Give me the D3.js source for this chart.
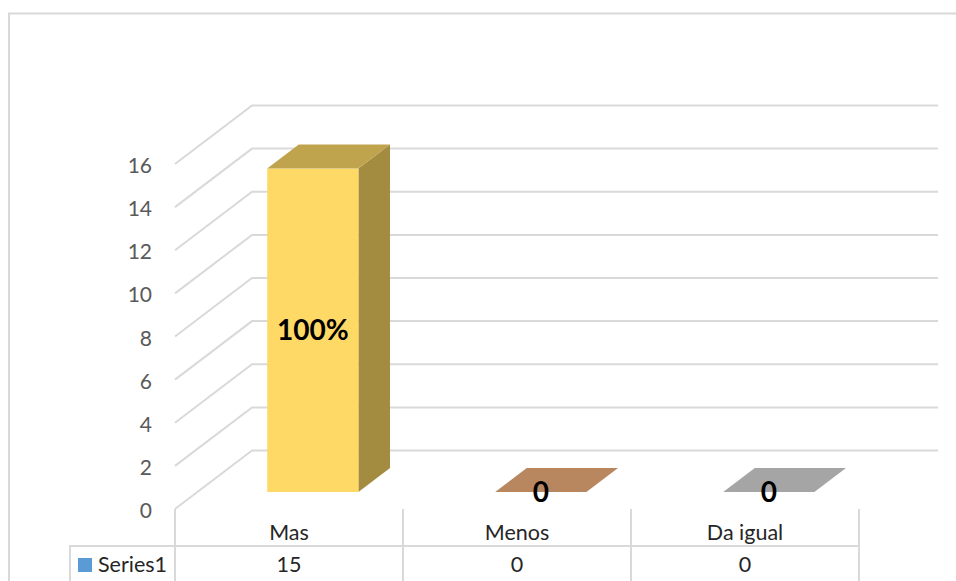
<!DOCTYPE html>
<html>
<head>
<meta charset="utf-8">
<script src="https://cdn.jsdelivr.net/npm/d3@7"></script>
<style>
  html, body { margin: 0; padding: 0; background: #fff; overflow: hidden; }
  text { font-family: Lato, "Open Sans", sans-serif; }
</style>
</head>
<body>
<div id="chart"></div>
<script>
// data
var categories = ['Mas', 'Menos', 'Da igual']
var values = [15, 0, 0]
var barLabels = ['100%', '0', '0']
var tickLabels = [0, 2, 4, 6, 8, 10, 12, 14, 16]
var seriesName = 'Series1'

var COLOR = {
  GRID: '#d9d9d9',
  TICK: '#595959',
  TEXT: '#262626',
  LEGEND: '#5b9bd5'
}
var barColors = [
  { front: '#ffd966', top: '#bfa34d', side: '#a38b3f' },
  { front: '#f4b183', top: '#b8865f', side: '#946b4c' },
  { front: '#dbdbdb', top: '#a5a5a5', side: '#848484' }
]

var width = 956
var height = 581

// the box floor and its depth, front corner to back corner
var depthX = 77
var depthY = 58.5
var barFrontDepth = 0.29
var barBackDepth = 0.7
var barNudge = 1.5

var svg = d3
  .select('#chart')
  .append('svg')
  .attr('width', width)
  .attr('height', height)

var x = d3
  .scaleBand()
  .domain(categories)
  .range([175, 859])
  .paddingInner(0)
  .paddingOuter(0)

var y = d3.scaleLinear().domain([0, 16]).range([509, 164])

var barWidth = x.bandwidth() * 0.4

// project a point of the floor plan to the page
function px(xPos, depth) {
  return xPos + depth * depthX
}
function py(value, depth) {
  return y(value) - depth * depthY
}
function poly(points) {
  return points.map(p => p[0].toFixed(1) + ',' + p[1].toFixed(1)).join(' ')
}

// outer chart frame, cut by the window on the right and at the bottom
svg
  .append('path')
  .attr('d', 'M9,' + height + 'V13.5H' + width)
  .attr('fill', 'none')
  .attr('stroke', COLOR.GRID)
  .attr('stroke-width', 2)

// gridlines along the side wall and the back wall
var grid = svg.append('g').attr('fill', 'none').attr('stroke', COLOR.GRID).attr('stroke-width', 2)
grid
  .selectAll('polyline')
  .data(tickLabels)
  .enter()
  .append('polyline')
  .attr('points', d => poly([
    [x.range()[0], py(d, 0)],
    [px(x.range()[0], 1), py(d, 1)],
    [938, py(d, 1)]
  ]))

// value axis labels
svg
  .append('g')
  .selectAll('text')
  .data(tickLabels)
  .enter()
  .append('text')
  .attr('x', 152)
  .attr('y', d => y(d) + 9)
  .attr('text-anchor', 'end')
  .attr('font-size', 21)
  .attr('fill', COLOR.TICK)
  .text(d => d)

// bars
var bars = svg
  .append('g')
  .selectAll('g')
  .data(categories)
  .enter()
  .append('g')

function barLeft(d) {
  return x(d) + (x.bandwidth() - barWidth) / 2 + barNudge
}

// right side
bars
  .append('polygon')
  .attr('fill', (d, i) => barColors[i].side)
  .attr('points', (d, i) => {
    var r = barLeft(d) + barWidth
    return poly([
      [px(r, barFrontDepth), py(0, barFrontDepth)],
      [px(r, barBackDepth), py(0, barBackDepth)],
      [px(r, barBackDepth), py(values[i], barBackDepth)],
      [px(r, barFrontDepth), py(values[i], barFrontDepth)]
    ])
  })

// front
bars
  .append('rect')
  .attr('fill', (d, i) => barColors[i].front)
  .attr('x', d => px(barLeft(d), barFrontDepth))
  .attr('y', (d, i) => py(values[i], barFrontDepth))
  .attr('width', barWidth)
  .attr('height', (d, i) => y(0) - y(values[i]))

// top
bars
  .append('polygon')
  .attr('fill', (d, i) => barColors[i].top)
  .attr('points', (d, i) => {
    var l = barLeft(d)
    var r = l + barWidth
    return poly([
      [px(l, barFrontDepth), py(values[i], barFrontDepth)],
      [px(r, barFrontDepth), py(values[i], barFrontDepth)],
      [px(r, barBackDepth), py(values[i], barBackDepth)],
      [px(l, barBackDepth), py(values[i], barBackDepth)]
    ])
  })

// data labels, centred on the bar front
bars
  .append('text')
  .attr('x', d => px(barLeft(d), barFrontDepth) + barWidth / 2)
  .attr('y', (d, i) => py(values[i] / 2, barFrontDepth) + 10)
  .attr('text-anchor', 'middle')
  .attr('font-size', 28)
  .attr('font-weight', 700)
  .attr('fill', '#000')
  .text((d, i) => barLabels[i])

// data table under the chart
var table = svg.append('g').attr('fill', 'none').attr('stroke', COLOR.GRID).attr('stroke-width', 2)
var edges = categories.map(d => x(d)).concat(x.range()[1])
table
  .selectAll('line')
  .data(edges)
  .enter()
  .append('line')
  .attr('x1', d => d)
  .attr('x2', d => d)
  .attr('y1', y(0))
  .attr('y2', height)
table
  .append('path')
  .attr('d', 'M70,' + height + 'V546H' + x.range()[1])

svg
  .append('g')
  .selectAll('text')
  .data(categories)
  .enter()
  .append('text')
  .attr('x', d => x(d) + x.bandwidth() / 2)
  .attr('y', 540)
  .attr('text-anchor', 'middle')
  .attr('font-size', 21.5)
  .attr('fill', COLOR.TEXT)
  .text(d => d)

svg
  .append('g')
  .selectAll('text')
  .data(values)
  .enter()
  .append('text')
  .attr('x', (d, i) => x(categories[i]) + x.bandwidth() / 2)
  .attr('y', 572)
  .attr('text-anchor', 'middle')
  .attr('font-size', 21.5)
  .attr('fill', COLOR.TEXT)
  .text(d => d)

// legend key in the table
svg
  .append('rect')
  .attr('x', 78)
  .attr('y', 558)
  .attr('width', 14)
  .attr('height', 14)
  .attr('fill', COLOR.LEGEND)
svg
  .append('text')
  .attr('x', 98)
  .attr('y', 572)
  .attr('font-size', 21.5)
  .attr('fill', COLOR.TEXT)
  .text(seriesName)
</script>
</body>
</html>
